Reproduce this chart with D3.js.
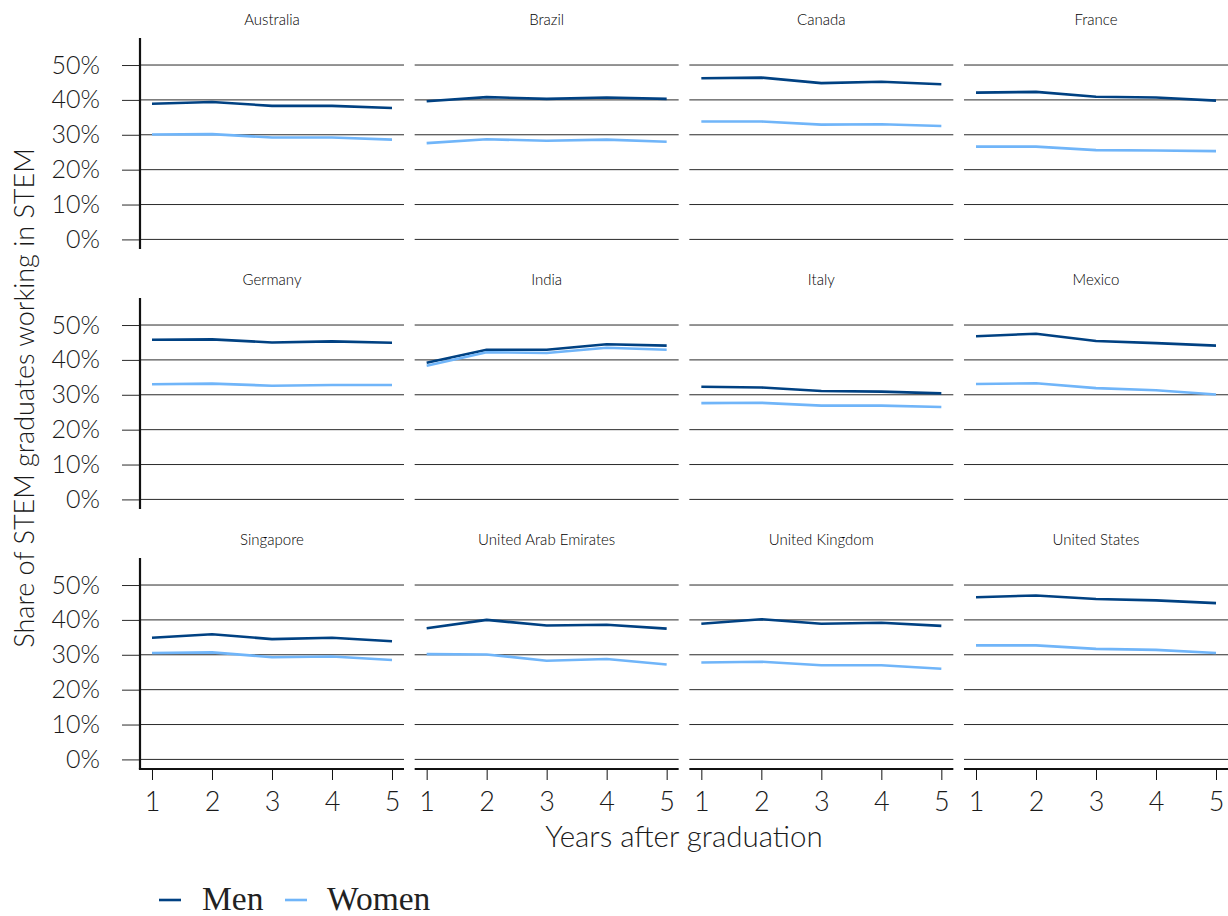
<!DOCTYPE html>
<html>
<head>
<meta charset="utf-8">
<script src="https://cdn.jsdelivr.net/npm/d3@7"></script>
<style>
  html, body { margin: 0; padding: 0; background: #fff; }
  svg { display: block; }
</style>
</head>
<body>
<svg id="chart" width="1228" height="916"></svg>
<script>
// Share of STEM graduates working in STEM, by years after graduation
const countries = ["Australia", "Brazil", "Canada", "France",
                   "Germany", "India", "Italy", "Mexico",
                   "Singapore", "United Arab Emirates", "United Kingdom", "United States"];
const years = [1, 2, 3, 4, 5];
const yTicks = [0, 0.1, 0.2, 0.3, 0.4, 0.5];

const men = [
  [0.389, 0.394, 0.383, 0.383, 0.377],
  [0.396, 0.408, 0.403, 0.407, 0.403],
  [0.462, 0.464, 0.448, 0.452, 0.445],
  [0.421, 0.423, 0.409, 0.407, 0.398],
  [0.458, 0.459, 0.450, 0.453, 0.449],
  [0.392, 0.429, 0.429, 0.445, 0.441],
  [0.323, 0.321, 0.311, 0.309, 0.304],
  [0.468, 0.475, 0.454, 0.448, 0.441],
  [0.349, 0.359, 0.345, 0.349, 0.339],
  [0.376, 0.400, 0.384, 0.386, 0.375],
  [0.389, 0.402, 0.389, 0.392, 0.383],
  [0.465, 0.470, 0.460, 0.456, 0.448]
];
const women = [
  [0.301, 0.302, 0.292, 0.292, 0.286],
  [0.276, 0.287, 0.283, 0.286, 0.280],
  [0.338, 0.338, 0.329, 0.330, 0.325],
  [0.266, 0.266, 0.256, 0.255, 0.253],
  [0.330, 0.332, 0.326, 0.328, 0.328],
  [0.383, 0.422, 0.420, 0.435, 0.429],
  [0.276, 0.277, 0.269, 0.269, 0.265],
  [0.331, 0.333, 0.319, 0.313, 0.301],
  [0.305, 0.307, 0.293, 0.295, 0.285],
  [0.302, 0.301, 0.283, 0.288, 0.272],
  [0.278, 0.280, 0.270, 0.270, 0.260],
  [0.327, 0.327, 0.317, 0.314, 0.305]
];

const seriesNames = ["Men", "Women"];
const seriesColors = ["#004182", "#70b5f9"];

const svg = d3.select("#chart");
const sansFont = "Lato, 'Open Sans', sans-serif";
const sansWeight = 300;

// facet grid geometry
const nCols = 4;
const left = 140, right = 1228;
const gapX = 10.67;
const panelW = (right - left - gapX * (nCols - 1)) / nCols;
const panelH = 211;
const top0 = 38, rowStep = 260;

const x = d3.scaleLinear().domain([0.8, 5.2]).range([0, panelW]);
const y = d3.scaleLinear().domain([-0.0275, 0.5775]).range([panelH, 0]);

const line = d3.line().x(d => x(d[0])).y(d => y(d[1]));

countries.forEach((name, i) => {
  const col = i % nCols, row = Math.floor(i / nCols);
  const g = svg.append("g")
    .attr("transform", `translate(${left + col * (panelW + gapX)},${top0 + row * rowStep})`);

  // horizontal gridlines
  g.selectAll("line.grid").data(yTicks).join("line")
    .attr("class", "grid")
    .attr("x1", 0).attr("x2", panelW)
    .attr("y1", d => y(d)).attr("y2", d => y(d))
    .attr("stroke", "#2a2a2a").attr("stroke-width", 1);

  // strip title
  g.append("text")
    .attr("x", panelW / 2).attr("y", -13)
    .attr("text-anchor", "middle")
    .attr("font-family", sansFont).attr("font-size", 15)
    .attr("font-weight", sansWeight)
    .attr("fill", "#000")
    .text(name);

  // left axis on first column
  if (col === 0) {
    const ya = g.append("g").call(
      d3.axisLeft(y).tickValues(yTicks).tickFormat(d3.format(".0%"))
        .tickSize(18).tickPadding(22)
    );
    ya.select(".domain").remove();
    ya.selectAll(".tick line").attr("stroke", "#2a2a2a");
    ya.selectAll(".tick text")
      .attr("font-family", sansFont).attr("font-size", 25)
      .attr("font-weight", sansWeight)
      .attr("fill", "#1a1a1a");
    g.append("line")
      .attr("x1", 0).attr("x2", 0).attr("y1", 0).attr("y2", panelH)
      .attr("stroke", "#111").attr("stroke-width", 2.2);
  }

  // bottom axis on last row
  if (row === 2) {
    const xa = g.append("g").attr("transform", `translate(0,${panelH})`).call(
      d3.axisBottom(x).tickValues(years).tickFormat(d3.format("d"))
        .tickSize(11).tickPadding(12)
    );
    xa.select(".domain").remove();
    xa.selectAll(".tick line").attr("stroke", "#111");
    xa.selectAll(".tick text")
      .attr("font-family", sansFont).attr("font-size", 27)
      .attr("font-weight", sansWeight)
      .attr("fill", "#1a1a1a");
    g.append("line")
      .attr("x1", col === 0 ? -1.1 : 0).attr("x2", panelW)
      .attr("y1", panelH).attr("y2", panelH)
      .attr("stroke", "#111").attr("stroke-width", 2.2);
  }

  // series lines
  [men[i], women[i]].forEach((vals, s) => {
    g.append("path")
      .datum(years.map((yr, k) => [yr, vals[k]]))
      .attr("d", line)
      .attr("fill", "none")
      .attr("stroke", seriesColors[s])
      .attr("stroke-width", 2.6)
      .attr("stroke-linejoin", "round");
  });
});

// axis titles
svg.append("text")
  .attr("transform", "translate(34,398) rotate(-90)")
  .attr("text-anchor", "middle")
  .attr("font-family", sansFont).attr("font-size", 27)
  .attr("font-weight", sansWeight)
  .attr("fill", "#1a1a1a")
  .text("Share of STEM graduates working in STEM");

svg.append("text")
  .attr("x", (left + right) / 2).attr("y", 847)
  .attr("text-anchor", "middle")
  .attr("font-family", sansFont).attr("font-size", 29.5)
  .attr("font-weight", sansWeight)
  .attr("fill", "#1a1a1a")
  .text("Years after graduation");

// legend
const legendItems = [
  { name: seriesNames[0], color: seriesColors[0], kx: 159, tx: 202 },
  { name: seriesNames[1], color: seriesColors[1], kx: 285, tx: 327 }
];
const lg = svg.append("g");
legendItems.forEach(it => {
  lg.append("line")
    .attr("x1", it.kx).attr("x2", it.kx + 22)
    .attr("y1", 900).attr("y2", 900)
    .attr("stroke", it.color).attr("stroke-width", 2.6);
  lg.append("text")
    .attr("x", it.tx).attr("y", 910)
    .attr("font-family", "'Liberation Serif', 'Times New Roman', serif")
    .attr("font-size", 33.5)
    .attr("fill", "#222")
    .text(it.name);
});
</script>
</body>
</html>
